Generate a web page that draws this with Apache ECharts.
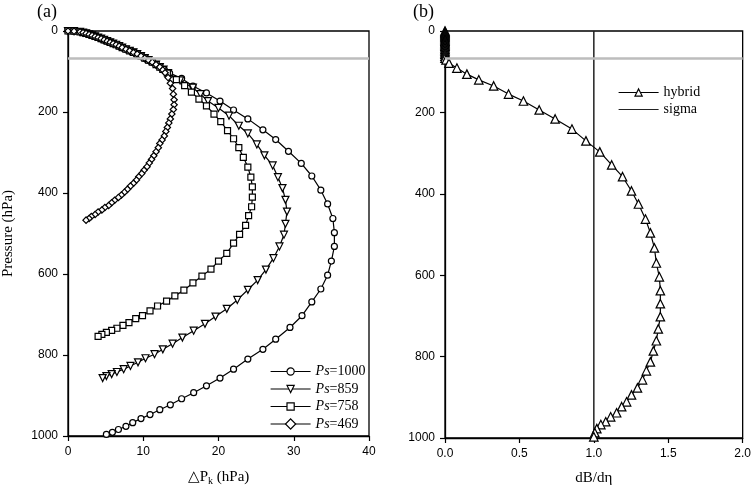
<!DOCTYPE html>
<html><head><meta charset="utf-8">
<script src="https://cdn.jsdelivr.net/npm/echarts@6/dist/echarts.min.js"></script>
<style>html,body{margin:0;padding:0;background:#fff}#c{width:754px;height:491px}</style>
</head><body><div id="c"></div>
<script>
// ---- data: [deltaP (hPa), pressure (hPa)] ----
const commonTop = [[0,0],[0.8,0.5],[1.6,2],[2.0,4],[2.4,6],[2.8,8.5],[3.2,11],[3.6,13.5],[4.0,16],[4.4,19],[4.8,22],[5.2,25],[5.6,28],[6.0,31],[6.4,34],[6.8,37.5],[7.2,41],[7.7,45],[8.2,49],[8.7,53],[9.2,57],[9.7,62],[10.2,67],[10.7,72],[11.2,77],[11.7,83],[12.2,89]];
const ps1000 = [[12.8,95],[13.5,104],[15.1,117],[16.6,136],[18.4,153],[20.2,173],[22.0,195],[23.9,217],[25.9,244],[27.6,268],[29.3,297],[31.0,327],[32.4,358],[33.6,393],[34.5,427],[35.2,463],[35.4,498],[35.4,532],[35.0,568],[34.5,603],[33.6,637],[32.4,669],[31.1,703],[29.5,732],[27.6,761],[25.9,786],[23.9,810],[22.0,835],[20.2,857],[18.4,876],[16.7,893],[15.1,908],[13.6,923],[12.2,935],[10.9,947],[9.7,957],[8.6,967],[7.7,976],[6.7,984],[5.9,991],[5.1,996]];
const ps859 = [[12.7,95],[13.3,104],[14.9,122],[16.6,140],[17.6,156],[18.6,173],[20.0,190],[21.4,209],[22.7,234],[23.9,253],[25.1,280],[26.1,307],[27.2,332],[27.9,361],[28.5,388],[28.9,417],[29.1,446],[28.9,476],[28.7,503],[28.1,532],[27.3,561],[26.3,589],[25.2,615],[23.9,639],[22.5,664],[21.1,686],[19.6,705],[18.2,723],[16.7,740],[15.2,757],[13.9,772],[12.6,786],[11.5,798],[10.3,808],[9.3,818],[8.3,827],[7.4,835],[6.5,842],[5.8,847],[5.1,852],[4.6,857]];
const ps758 = [[12.6,95],[13.2,104],[14.4,120],[15.5,135],[16.4,151],[17.4,168],[18.4,185],[19.4,205],[20.3,224],[21.2,246],[22.0,266],[22.7,288],[23.3,312],[23.9,336],[24.3,361],[24.5,385],[24.5,410],[24.4,434],[24.0,456],[23.6,480],[22.8,502],[22.0,524],[21.1,549],[20.0,568],[19.0,588],[17.8,605],[16.6,622],[15.4,640],[14.2,654],[13.1,667],[11.9,679],[10.9,691],[9.9,703],[9.0,710],[8.1,720],[7.3,727],[6.5,734],[5.8,739],[5.1,744],[4.5,749],[4.0,754]];
const ps469 = [[12.6,96],[12.9,103],[13.3,115],[13.6,129],[13.9,142],[14.0,156],[14.1,170],[14.1,182],[14.0,194],[13.8,205],[13.6,217],[13.4,227],[13.2,238],[13.0,248],[12.8,259],[12.5,269],[12.2,278],[12.0,288],[11.7,298],[11.4,308],[11.1,317],[10.8,326],[10.5,335],[10.1,344],[9.8,352],[9.4,360],[9.1,368],[8.7,376],[8.3,383],[7.9,391],[7.5,398],[7.1,405],[6.7,411],[6.2,418],[5.8,424],[5.4,431],[4.9,436],[4.5,442],[4.0,447],[3.6,453],[3.1,458],[2.8,463],[2.4,467]];
// ---- data: [dB/deta, pressure (hPa)] ----
const hybridTop = [[0,0],[0,2],[0,4],[0,6],[0,8.5],[0,11],[0,13.5],[0,16],[0,19],[0,22],[0,25],[0,28],[0,31],[0,34],[0,37.5],[0,41],[0,45],[0,49],[0,53],[0,57],[0,62],[0,67]];
const hybrid = [[0.007,71],[0.027,79],[0.08,91],[0.147,106],[0.227,120],[0.327,135],[0.427,155],[0.527,172],[0.633,194],[0.74,216],[0.853,241],[0.947,270],[1.04,297],[1.12,329],[1.193,358],[1.253,393],[1.30,425],[1.347,462],[1.38,496],[1.407,533],[1.42,570],[1.44,604],[1.447,638],[1.447,670],[1.447,702],[1.433,732],[1.42,761],[1.40,786],[1.38,813],[1.353,835],[1.327,857],[1.293,877],[1.253,894],[1.22,911],[1.187,923],[1.153,938],[1.113,948],[1.08,960],[1.047,967],[1.02,977],[1.007,987],[1.0,997]];
const sigma = [[1,0],[1,1000]];
const grayLevel = 67;
const pressureTicks = [0,200,400,600,800,1000];
const dpTicks = [0,10,20,30,40];
const dbTicks = [0,0.5,1.0,1.5,2.0];
const psNames = ['Ps=1000','Ps=859','Ps=758','Ps=469'];

const serif = 'Liberation Serif';
const sans = 'Liberation Sans';
const chart = echarts.init(document.getElementById('c'), null, {renderer:'canvas'});

function axisBase(fmt){
  return {
    axisLine:{show:true, onZero:false, lineStyle:{color:'#000', width:1.3}},
    axisTick:{show:true, length:5, lineStyle:{color:'#000', width:1.2}},
    axisLabel:{color:'#000', fontFamily:sans, fontSize:12, margin:10, formatter:fmt || (v => String(v))},
    splitLine:{show:false}
  };
}
const mk = {color:'#fff', borderColor:'#000', borderWidth:1.2};
function lineSeries(name, data, symbol, size, rot){
  return {name, type:'line', xAxisIndex:0, yAxisIndex:0, data, symbol, symbolSize:size, symbolRotate:rot||0,
    showAllSymbol:true, clip:false, lineStyle:{color:'#000', width:1.2}, itemStyle:mk, animation:false, z:3};
}
const legendText = {fontFamily:serif, fontSize:14, lineHeight:17, color:'#000'};

const option = {
  backgroundColor:'#fff',
  animation:false,
  grid:[
    {left:68, top:31, width:301, height:410, show:true, borderColor:'#000', borderWidth:1.3, backgroundColor:'transparent'},
    {left:445, top:31, width:300, height:407, show:true, borderColor:'#000', borderWidth:1.3, backgroundColor:'transparent'}
  ],
  xAxis:[
    Object.assign(axisBase(), {type:'value', gridIndex:0, min:dpTicks[0], max:dpTicks[dpTicks.length-1], interval:dpTicks[1]-dpTicks[0],
      name:'\u25B3P{sub|k} (hPa)', nameLocation:'middle', nameGap:32,
      nameTextStyle:{fontFamily:serif, fontSize:15, color:'#000', rich:{sub:{fontFamily:serif, fontSize:10, color:'#000', verticalAlign:'bottom', padding:[8,0,0,0]}}}}),
    Object.assign(axisBase(v => v.toFixed(1)), {type:'value', gridIndex:1, min:dbTicks[0], max:dbTicks[dbTicks.length-1], interval:dbTicks[1]-dbTicks[0],
      name:'dB/d\u03B7', nameLocation:'middle', nameGap:33,
      nameTextStyle:{fontFamily:serif, fontSize:15, color:'#000'}}),
  ],
  yAxis:[
    Object.assign(axisBase(), {type:'value', gridIndex:0, inverse:true, min:pressureTicks[0], max:pressureTicks[pressureTicks.length-1], interval:pressureTicks[1]-pressureTicks[0],
      name:'Pressure (hPa)', nameLocation:'middle', nameGap:52, nameRotate:90,
      nameTextStyle:{fontFamily:serif, fontSize:15, color:'#000'}}),
    Object.assign(axisBase(), {type:'value', gridIndex:1, inverse:true, min:pressureTicks[0], max:pressureTicks[pressureTicks.length-1], interval:pressureTicks[1]-pressureTicks[0]})
  ],
  legend:[
    {data:psNames, orient:'vertical', left:270, top:363, padding:0, itemWidth:40, itemHeight:9, itemGap:0.5, selectedMode:false,
      itemStyle:{borderWidth:1.2}, lineStyle:{width:1.2},
      textStyle:Object.assign({}, legendText, {rich:{i:Object.assign({fontStyle:'italic'}, legendText)}}),
      formatter:n => '{i|Ps}=' + n.slice(3)},
    {data:['hybrid', {name:'sigma', itemStyle:{opacity:0}}], orient:'vertical', left:618, top:84, padding:0, itemWidth:40, itemHeight:9, itemGap:0, selectedMode:false,
      itemStyle:{borderWidth:1.2}, lineStyle:{width:1.2},
      textStyle:legendText}
  ],
  graphic:[
    {type:'text', left:37, top:3, style:{text:'(a)', font:'18px "Liberation Serif"', fill:'#000'}},
    {type:'text', left:413, top:3, style:{text:'(b)', font:'18px "Liberation Serif"', fill:'#000'}}
  ],
  series:[
    lineSeries(psNames[0], commonTop.concat(ps1000), 'circle', 6),
    lineSeries(psNames[1], commonTop.concat(ps859), 'triangle', 7, 180),
    lineSeries(psNames[2], commonTop.concat(ps758), 'rect', 6),
    Object.assign(lineSeries(psNames[3], commonTop.concat(ps469), 'rect', 4.5, 45), {
      markLine:{silent:true, symbol:'none', label:{show:false}, lineStyle:{color:'#bdbdbd', width:2.5, type:'solid'}, data:[{yAxis:grayLevel}], animation:false}}),
    {name:'sigma', type:'line', xAxisIndex:1, yAxisIndex:1, data:sigma, symbol:'none', itemStyle:{color:'#222'}, lineStyle:{color:'#222', width:1.5}, animation:false, z:2},
    {name:'hybrid', type:'line', xAxisIndex:1, yAxisIndex:1, data:hybridTop.concat(hybrid), symbol:'triangle', symbolSize:8.5,
      showAllSymbol:true, clip:false, lineStyle:{color:'#000', width:1.2}, itemStyle:mk, animation:false, z:3,
      markLine:{silent:true, symbol:'none', label:{show:false}, lineStyle:{color:'#bdbdbd', width:2.5, type:'solid'}, data:[{yAxis:grayLevel}], animation:false}}
  ]
};
chart.setOption(option);
</script></body></html>
